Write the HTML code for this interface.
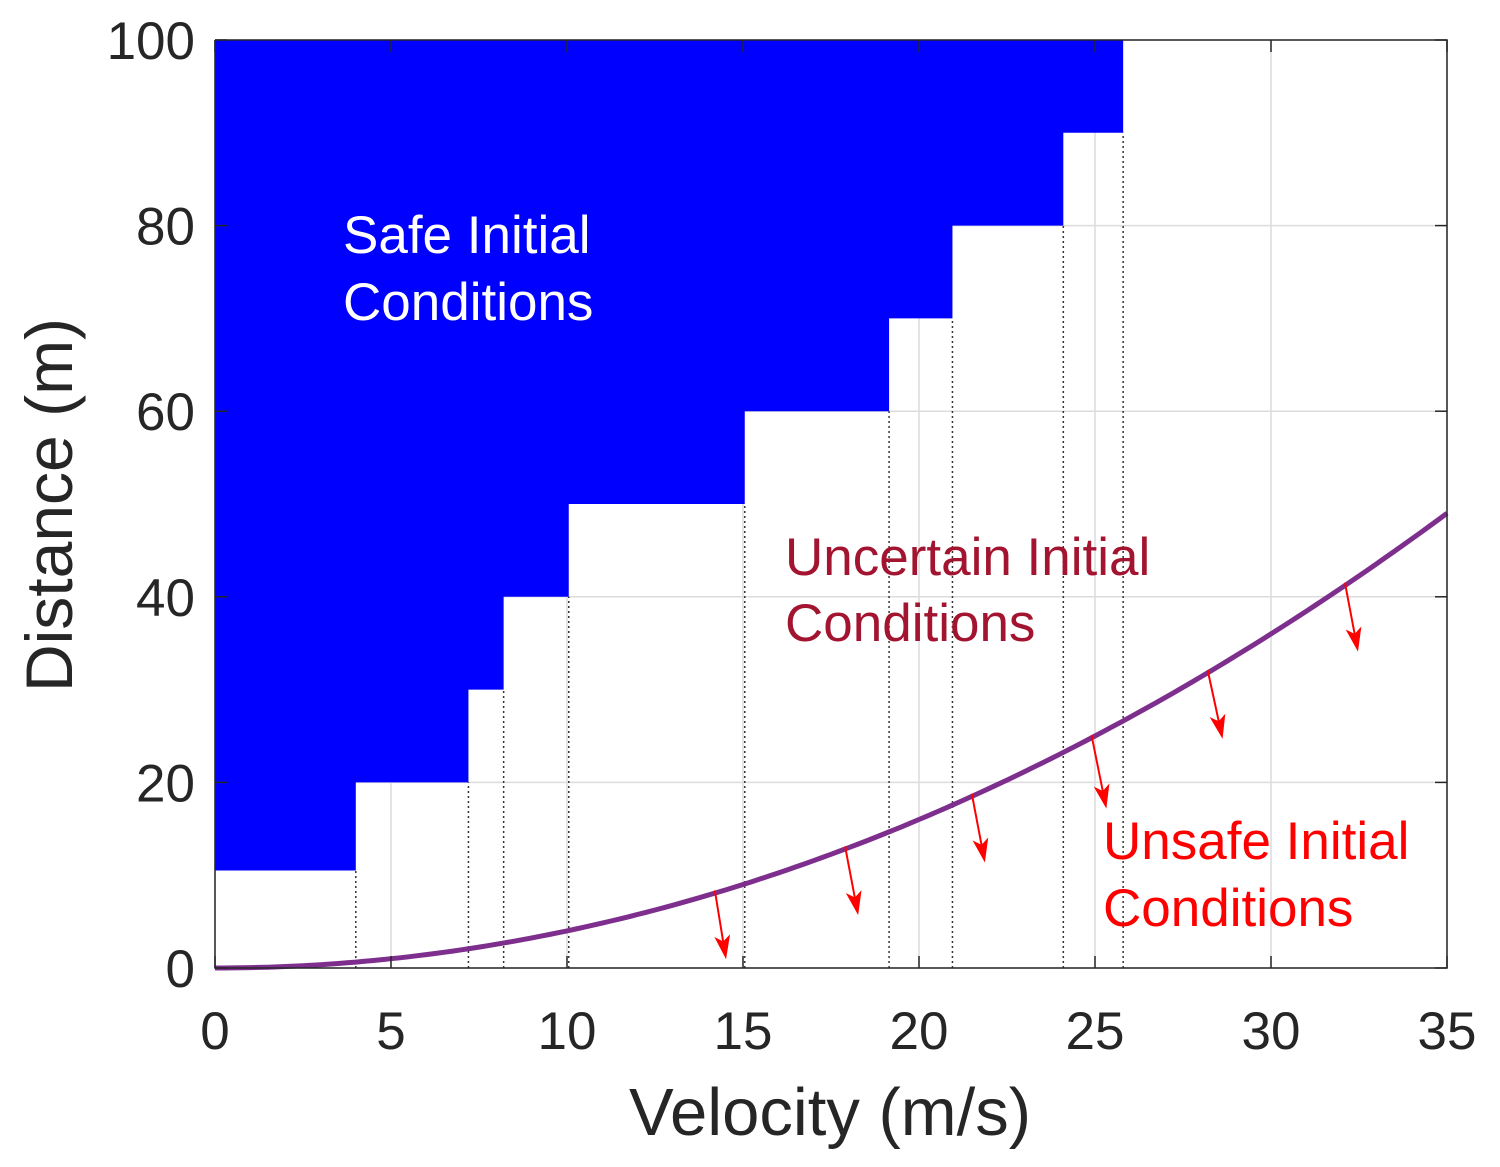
<!DOCTYPE html>
<html><head><meta charset="utf-8"><style>
html,body{margin:0;padding:0;background:#fff;}
svg text{font-family:"Liberation Sans",Arial,sans-serif;}
</style></head><body>
<svg id="chart" width="1500" height="1162" viewBox="0 0 1500 1162" xmlns="http://www.w3.org/2000/svg">
<defs><marker id="ah" markerWidth="24" markerHeight="16" refX="20" refY="8" orient="auto" markerUnits="userSpaceOnUse" viewBox="0 0 24 16"><path d="M0,0 L24,8 L0,16 L6,8 Z" fill="#ff0000"/></marker></defs>
<g id="grid"></g>
<g id="fill"></g>
<g id="dots"></g>
<g id="curve"></g>
<g id="arrows"></g>
<g id="axes"></g>
<text x="343" y="253" font-size="53" fill="#fff">Safe Initial</text>
<text x="343" y="320" font-size="53" fill="#fff">Conditions</text>
<text x="785" y="575" font-size="53" fill="#a2142f">Uncertain Initial</text>
<text x="785" y="641" font-size="53" fill="#a2142f">Conditions</text>
<text x="1103" y="859" font-size="53" fill="#ff0000">Unsafe Initial</text>
<text x="1103" y="926" font-size="53" fill="#ff0000">Conditions</text>
<text x="830" y="1135" font-size="67" fill="#262626" text-anchor="middle">Velocity (m/s)</text>
<text transform="translate(72,505) rotate(-90)" font-size="66" fill="#262626" text-anchor="middle">Distance (m)</text>
</svg>
<script>
const xTicks=[0,5,10,15,20,25,30,35];
const yTicks=[0,20,40,60,80,100];
const stepEdges=[4.0,7.2,8.2,10.05,15.05,19.15,20.95,24.1,25.8];
const stepBottoms=[10.5,20,30,40,50,60,70,80,90];
const curveDecel=12.5;
const arrowV=[14.2,17.9,21.5,24.9,28.2,32.1];
const arrowDv=[0.3,0.35,0.35,0.4,0.4,0.35];
const arrowDd=[-7,-7,-7,-7.5,-7,-7];
const X0=215,X1=1447,Y0=968,Y1=40;
const sx=v=>X0+(v-0)/(35)*(X1-X0);
const sy=d=>Y0-(d/100)*(Y0-Y1);
const NS='http://www.w3.org/2000/svg';
function mk(tag,attrs,parent){const e=document.createElementNS(NS,tag);for(const k in attrs)e.setAttribute(k,attrs[k]);document.getElementById(parent).appendChild(e);return e;}
xTicks.forEach(t=>{const e=mk('line',{x1:sx(t),x2:sx(t),y1:Y0,y2:Y1,stroke:'#dcdcdc','stroke-width':1.5},'grid');

});
yTicks.forEach(t=>{const e=mk('line',{x1:X0,x2:X1,y1:sy(t),y2:sy(t),stroke:'#dcdcdc','stroke-width':1.5},'grid');

});
let p='M'+sx(0)+','+sy(100);
p+=' L'+sx(0)+','+sy(stepBottoms[0]);
stepEdges.forEach((v,i)=>{p+=' L'+sx(v)+','+sy(stepBottoms[i]);if(i+1<stepBottoms.length)p+=' L'+sx(v)+','+sy(stepBottoms[i+1]);});
p+=' L'+sx(stepEdges[stepEdges.length-1])+','+sy(100)+' Z';
const f=mk('path',{d:p,fill:'#0000ff'},'fill');


stepEdges.forEach((v,i)=>{const e=mk('line',{x1:sx(v),x2:sx(v),y1:Y0,y2:sy(stepBottoms[i]),stroke:'#333','stroke-width':1.5,'stroke-dasharray':'2,3'},'dots');

});
let c='';for(let v=0;v<=35.001;v+=0.25){c+=(c?' L':'M')+sx(v).toFixed(1)+','+sy(v*v/(2*curveDecel)).toFixed(1);}
const cv=mk('path',{d:c,fill:'none',stroke:'#7e2f8e','stroke-width':5},'curve');


arrowV.forEach((v,i)=>{const d=v*v/(2*curveDecel)+0.3;const e=mk('line',{x1:sx(v),y1:sy(d),x2:sx(v+arrowDv[i]),y2:sy(d+arrowDd[i]),stroke:'#ff0000','stroke-width':2,'marker-end':'url(#ah)'},'arrows');

});
const ax=mk('path',{d:`M${X0},${Y1} L${X0},${Y0} L${X1},${Y0} L${X1},${Y1} L${X0},${Y1}`,fill:'none',stroke:'#262626','stroke-width':1.5},'axes');


xTicks.forEach(t=>{mk('line',{x1:sx(t),x2:sx(t),y1:Y0,y2:Y0-12,stroke:'#262626','stroke-width':1.5},'axes');mk('line',{x1:sx(t),x2:sx(t),y1:Y1,y2:Y1+12,stroke:'#262626','stroke-width':1.5},'axes');
const e=mk('text',{x:sx(t),y:1049,'font-size':53,fill:'#262626','text-anchor':'middle'},'axes');e.textContent=t;

});
yTicks.forEach(t=>{mk('line',{x1:X0,x2:X0+12,y1:sy(t),y2:sy(t),stroke:'#262626','stroke-width':1.5},'axes');mk('line',{x1:X1,x2:X1-12,y1:sy(t),y2:sy(t),stroke:'#262626','stroke-width':1.5},'axes');
const e=mk('text',{x:195,y:sy(t)+19,'font-size':53,fill:'#262626','text-anchor':'end'},'axes');e.textContent=t;

});
</script>
</body></html>
